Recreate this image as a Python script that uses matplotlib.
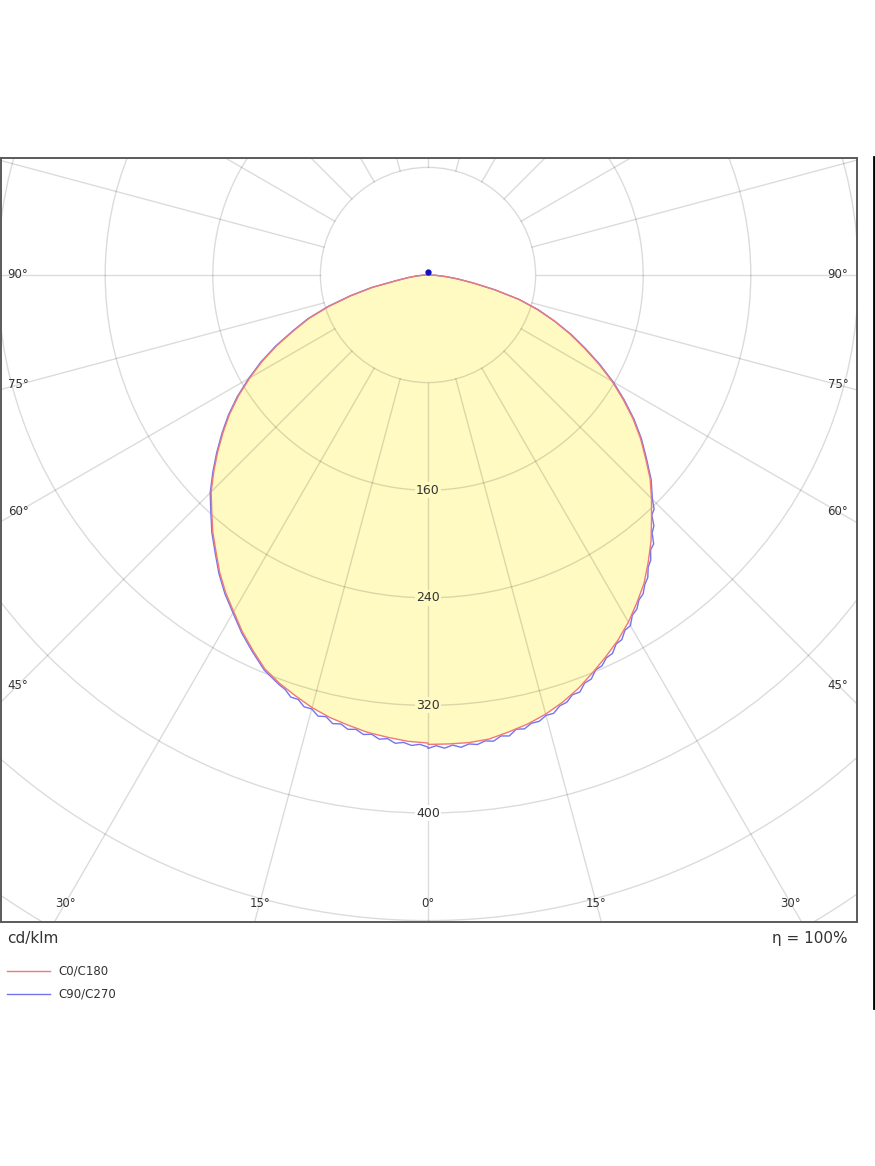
import numpy as np
import matplotlib
matplotlib.use("Agg")
import matplotlib.pyplot as plt
from matplotlib.patches import Circle, Polygon
from matplotlib.lines import Line2D

# ---------------- data (cd/klm) ----------------
gamma_red = list(np.arange(0, 90.01, 2.5))
c0 = [349, 349, 349, 348, 345, 342, 338, 333, 327, 320, 313, 306, 298, 289, 280, 269, 258, 246,
      235, 224, 211, 199, 186, 172, 158, 143, 128, 114, 100, 85, 70, 51, 34, 22, 13, 6, 0]
c180 = [348, 347, 345, 343, 340, 337, 333, 328, 323, 317, 308, 299, 289, 280, 270, 259, 249, 238,
        228, 216, 204, 192, 180, 167, 153, 139, 124, 108, 94, 77, 59, 42, 23, 15, 9, 4, 0]

gamma_c90 = list(range(0, 46)) + list(np.arange(47.5, 90.01, 2.5))
c90 = [352, 350, 352, 350, 352, 350, 351, 349, 350, 347, 348, 344, 345, 342, 342, 339,
       339, 335, 334, 330, 330, 325, 324, 319, 318, 314, 313, 308, 307, 302, 301, 295,
       293, 288, 286, 281, 278, 272, 269, 263, 261, 254, 251, 244, 242, 236,
       225, 212, 200, 187, 173, 159, 144, 129, 115, 100, 86, 70, 51, 34, 22, 13, 6, 0]

gamma_c270 = list(range(0, 21)) + list(np.arange(22.5, 90.01, 2.5))
c270 = [351, 349, 350, 348, 349, 346, 347, 344, 345, 342, 343, 340, 341, 337, 338, 334,
        334, 330, 330, 326, 324,
        318, 309, 300, 290, 281, 271, 260, 250, 239, 229, 217, 205, 193, 181, 168, 154,
        140, 125, 109, 95, 78, 60, 43, 24, 15, 9, 4, 0]

c90_top = 2  # small upward value (gamma 180)

ring_values = [80, 160, 240, 320, 400, 480, 560, 640]
ring_labels = ["160", "240", "320", "400"]
angle_labels = [0, 15, 30, 45, 60, 75, 90]
series_names = ["C0/C180", "C90/C270"]
unit_text = "cd/klm"
eta_text = "η = 100%"

# ---------------- style ----------------
W, H = 875, 1166
S = 1.345            # pixels per cd
CX, CY = 428, 275    # centre of diagram (pixels)
FL, FR, FT, FB = 0.5, 857, 158, 922  # frame in pixels
fill_col = "#fffac2"
red_col = "#f07878"
blue_col = "#7474ee"
grid_col = (0, 0, 0, 0.14)

fig = plt.figure(figsize=(W / 100, H / 100), dpi=100)
fig.patch.set_facecolor("white")
ax = fig.add_axes([FL / W, 1 - FB / H, (FR - FL) / W, (FB - FT) / H])
ax.set_xlim((FL - CX) / S, (FR - CX) / S)
ax.set_ylim(-(FB - CY) / S, (CY - FT) / S)
ax.set_xticks([])
ax.set_yticks([])
for sp in ax.spines.values():
    sp.set_color("#5a5a5a")
    sp.set_linewidth(1.4)


def half(gam, vals, sign):
    g = np.radians(np.asarray(gam, float))
    v = np.asarray(vals, float)
    return sign * v * np.sin(g), -v * np.cos(g)


# red polygon (left = C180, right = C0)
xl, yl = half(gamma_red, c180, -1)
xr, yr = half(gamma_red, c0, 1)
rx = np.concatenate([xl[::-1], xr])
ry = np.concatenate([yl[::-1], yr])
ax.add_patch(Polygon(np.column_stack([rx, ry]), closed=True, facecolor=fill_col,
                     edgecolor="none", zorder=1))

# grid
for rv in ring_values:
    ax.add_patch(Circle((0, 0), rv, fill=False, edgecolor=grid_col, linewidth=1.0, zorder=2))
for a in range(0, 360, 15):
    ar = np.radians(a)
    r0, r1 = ring_values[0], 1200
    ax.plot([r0 * np.sin(ar), r1 * np.sin(ar)], [-r0 * np.cos(ar), -r1 * np.cos(ar)],
            color=grid_col, linewidth=1.0, zorder=2)

# curves
ax.plot(rx, ry, color=red_col, linewidth=1.0, zorder=4)
bxl, byl = half(gamma_c270, c270, -1)
bxr, byr = half(gamma_c90, c90, 1)
ax.plot(np.concatenate([bxl[::-1], bxr]), np.concatenate([byl[::-1], byr]),
        color=blue_col, linewidth=1.0, zorder=3)
ax.plot([0], [c90_top], marker="o", markersize=3.5, color="#1010c0", zorder=5)

# ring labels
for lab in ring_labels:
    rv = float(lab)
    fc = fill_col if rv < c0[0] else "white"
    ax.text(0, -rv, lab, ha="center", va="center", fontsize=9, color="#333333", zorder=6,
            bbox=dict(boxstyle="square,pad=0.12", facecolor=fc, edgecolor="none"))

# angle labels
xin = (CX - 18) / S
yin = (903 - CY) / S
for a in angle_labels:
    ar = np.radians(a)
    cand = []
    if np.sin(ar) > 1e-9:
        cand.append(xin / np.sin(ar))
    if np.cos(ar) > 1e-9:
        cand.append(yin / np.cos(ar))
    t = min(cand)
    sides = [1] if a == 0 else [-1, 1]
    for sg in sides:
        ax.text(sg * t * np.sin(ar), -t * np.cos(ar), f"{a}°", ha="center", va="center",
                fontsize=8.5, color="#333333", zorder=6)

# texts below
fig.text(7 / W, 1 - 938 / H, unit_text, ha="left", va="center", fontsize=11, color="#333333")
fig.text(848 / W, 1 - 938 / H, eta_text, ha="right", va="center", fontsize=11, color="#333333")

# legend
for i, (nm, col) in enumerate(zip(series_names, [red_col, blue_col])):
    yy = 1 - (971 + 23 * i) / H
    fig.add_artist(Line2D([7 / W, 50 / W], [yy, yy], color=col, linewidth=1.0))
    fig.text(58 / W, yy, nm, ha="left", va="center", fontsize=8.5, color="#333333")

# right border bar
fig.add_artist(Line2D([874 / W, 874 / W], [1 - 157 / H, 1 - 1008 / H], color="black", linewidth=2.0))

fig.savefig("out.png", dpi=100)
